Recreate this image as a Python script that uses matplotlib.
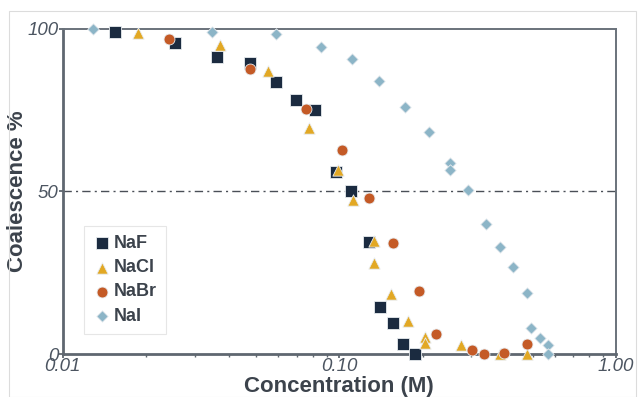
import matplotlib.pyplot as plt
from matplotlib.patches import Rectangle
from matplotlib.ticker import FixedLocator, LogLocator, NullFormatter

plt.rcParams['font.family'] = ['Liberation Sans', 'DejaVu Sans']

# values
naf_x = [0.0155, 0.0255, 0.0361, 0.0475, 0.0590, 0.0697, 0.0817, 0.0973, 0.110,
         0.128, 0.140, 0.156, 0.170, 0.187]
naf_y = [99.0, 95.6, 91.3, 89.5, 83.6, 78.1, 75.0, 55.9, 50.1, 34.4, 14.4, 9.5, 3.1, 0.0]

nacl_x = [0.0187, 0.0371, 0.0552, 0.0776, 0.0989, 0.112, 0.133, 0.133, 0.154, 0.177,
          0.204, 0.204, 0.275, 0.381, 0.476]
nacl_y = [98.7, 95.0, 87.0, 69.5, 56.6, 47.3, 34.7, 28.0, 18.4, 10.1, 5.2, 3.4, 2.8, 0.0, 0.0]

nabr_x = [0.0242, 0.0475, 0.0756, 0.102, 0.128, 0.156, 0.194, 0.223, 0.302, 0.333,
          0.394, 0.476]
nabr_y = [96.8, 87.6, 75.3, 62.7, 48.0, 34.1, 19.4, 6.1, 1.2, 0.0, 0.3, 3.1]

nai_x = [0.0129, 0.0347, 0.0590, 0.0859, 0.111, 0.139, 0.173, 0.211, 0.251, 0.251,
         0.292, 0.339, 0.381, 0.425, 0.476, 0.493, 0.531, 0.568, 0.568]
nai_y = [99.9, 99.0, 98.4, 94.4, 90.7, 83.9, 75.9, 68.2, 58.7, 56.6, 50.4, 40.0, 32.9,
         26.7, 18.8, 8.0, 4.9, 2.8, 0.0]

series = [
    ('NaF', naf_x, naf_y, 's', '#1b2b40', 72),
    ('NaCl', nacl_x, nacl_y, '^', '#e2a824', 66),
    ('NaBr', nabr_x, nabr_y, 'o', '#c45a26', 62),
    ('NaI', nai_x, nai_y, 'D', '#8cb5c7', 34),
]

fig = plt.figure(figsize=(6.38, 3.97), dpi=100)
ax = fig.add_axes([0.0983, 0.1083, 0.8672, 0.8194])

fig.patches.append(Rectangle((9 / 638, 0), 627 / 638, 1 - 11 / 397, transform=fig.transFigure,
                             fill=False, edgecolor='#dcdcdc', linewidth=0.8))

ax.axhline(50, color='#4a4f57', linestyle='-.', linewidth=1.0, dashes=(6, 3, 1.5, 3), zorder=1)

for name, xs, ys, m, c, s in series:
    ax.scatter(xs, ys, marker=m, s=s, color=c, edgecolors='#e8ecef', linewidths=0.6,
               label=name, zorder=3, clip_on=False)

ax.set_xscale('log')
ax.set_xlim(0.01, 1.0)
ax.set_ylim(0, 100)

ax.xaxis.set_major_locator(FixedLocator([0.01, 0.1, 1.0]))
ax.set_xticklabels(['0.01', '0.10', '1.00'])
ax.xaxis.set_minor_locator(LogLocator(base=10, subs=range(2, 10)))
ax.xaxis.set_minor_formatter(NullFormatter())
ax.set_yticks([0, 50, 100])

grey = '#4c5561'
for lab in ax.get_xticklabels() + ax.get_yticklabels():
    lab.set_fontstyle('italic')
    lab.set_fontsize(13.5)
    lab.set_color(grey)

ax.tick_params(axis='both', which='major', direction='out', length=3, width=1.3,
               color='#5f6770', pad=0)
ax.tick_params(axis='x', which='minor', direction='out', length=2.5, width=1.0, color='#5f6770')

for side in ['left', 'bottom']:
    ax.spines[side].set_linewidth(2.0)
    ax.spines[side].set_color('#5f6770')
for side in ['top', 'right']:
    ax.spines[side].set_linewidth(1.4)
    ax.spines[side].set_color('#6a727b')

ax.set_xlabel('Concentration (M)', fontsize=16, fontweight='bold', color='#3c434c')
ax.set_ylabel('Coalescence %', fontsize=16, fontweight='bold', color='#3c434c')
ax.xaxis.set_label_coords(0.5, -0.068)
ax.yaxis.set_label_coords(-0.062, 0.5)

leg = ax.legend(loc='upper left', bbox_to_anchor=(0.0385, 0.3935), borderaxespad=0,
                frameon=True, fancybox=False,
                prop={'weight': 'bold', 'size': 13}, labelcolor='#3c434c',
                handletextpad=0.15, handlelength=1.0, borderpad=0.5, labelspacing=0.4,
                markerscale=1.0)
leg.get_frame().set_edgecolor('#e0e0e0')
leg.get_frame().set_linewidth(0.8)

fig.savefig('out.png', dpi=100)
